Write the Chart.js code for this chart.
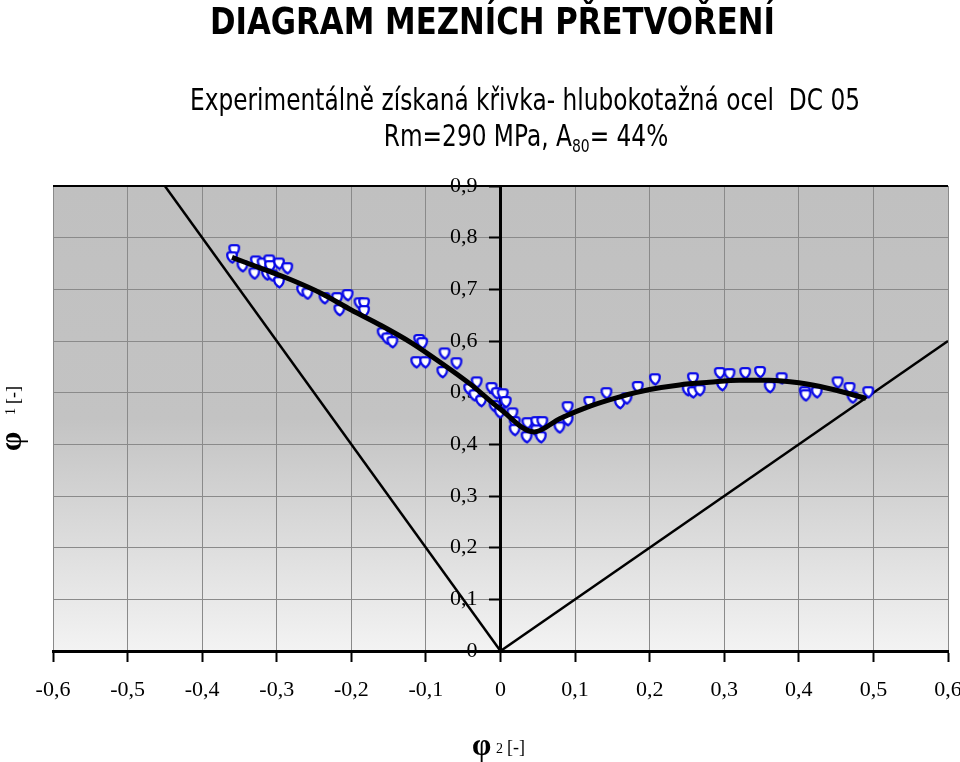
<!DOCTYPE html>
<html>
<head>
<meta charset="utf-8" />
<title>Diagram mezních přetvoření</title>
<style>
  html, body { margin: 0; padding: 0; background: #fff; }
  #obal { width: 960px; height: 762px; }
</style>
</head>
<body>
<div id="obal"><canvas id="canvasFLD" width="960" height="762"></canvas></div>
<script src="https://cdn.jsdelivr.net/npm/chart.js@4.4.0/dist/chart.umd.min.js"></script>
<script type="text/javascript">

// namerene body (phi2 / phi1)
var bodyX = [-0.357, -0.360, -0.346, -0.330, -0.328, -0.319, -0.310, -0.309, -0.313, -0.306,
             -0.297, -0.286, -0.297, -0.266, -0.259, -0.236, -0.219, -0.205, -0.216, -0.189,
             -0.183, -0.183, -0.158, -0.152, -0.145, -0.109, -0.105, -0.113, -0.101, -0.075,
             -0.059, -0.078, -0.032, -0.042, -0.035, -0.026, -0.012, -0.005, 0.003, 0.007,
             -0.008, -0.001, 0.016, 0.019, 0.019, 0.035, 0.036, 0.048, 0.056, 0.048,
             0.054, 0.079, 0.090, 0.090, 0.119, 0.142, 0.160, 0.169, 0.184, 0.207,
             0.251, 0.258, 0.258, 0.267, 0.294, 0.297, 0.307, 0.328, 0.348, 0.361,
             0.377, 0.408, 0.409, 0.424, 0.452, 0.468, 0.472, 0.493];
var bodyY = [0.776, 0.762, 0.745, 0.731, 0.754, 0.750, 0.756, 0.745, 0.729, 0.727,
             0.750, 0.741, 0.714, 0.698, 0.692, 0.683, 0.683, 0.689, 0.660, 0.673,
             0.673, 0.658, 0.615, 0.605, 0.598, 0.602, 0.596, 0.559, 0.559, 0.576,
             0.557, 0.540, 0.520, 0.507, 0.495, 0.484, 0.509, 0.499, 0.497, 0.482,
             0.474, 0.462, 0.460, 0.443, 0.428, 0.414, 0.441, 0.443, 0.443, 0.427,
             0.414, 0.433, 0.472, 0.447, 0.482, 0.499, 0.480, 0.489, 0.511, 0.526,
             0.505, 0.528, 0.501, 0.505, 0.538, 0.515, 0.536, 0.538, 0.540, 0.511,
             0.528, 0.501, 0.495, 0.501, 0.520, 0.509, 0.491, 0.501];

// prolozena krivka
var krivkaX = [-0.36, -0.32, -0.28, -0.24, -0.20, -0.16, -0.12, -0.08, -0.04, 0.0, 0.045,
               0.08, 0.12, 0.16, 0.20, 0.24, 0.28, 0.32, 0.36, 0.40, 0.44, 0.49];
var krivkaY = [0.762, 0.740, 0.718, 0.692, 0.660, 0.630, 0.597, 0.558, 0.516, 0.468, 0.424,
               0.450, 0.474, 0.492, 0.506, 0.515, 0.520, 0.524, 0.524, 0.519, 0.508, 0.489];

// hranice (jednoosy tah, rovnomerny dvouosy tah)
var hraniceLevaX = [0, -0.45];
var hraniceLevaY = [0, 0.9];
var hranicePravaX = [0, 0.6];
var hranicePravaY = [0, 0.6];

function spoj(xs, ys) {
    var out = [];
    for (var i = 0; i < xs.length; i++) out.push({x: xs[i], y: ys[i]});
    return out;
}

function cislo(v) {
    if (Math.abs(v) < 1e-9) return '0';
    return v.toFixed(1).replace('.', ',');
}

// znacka bodu
function udelejZnacku() {
    var c = document.createElement('canvas');
    c.width = 14; c.height = 14;
    var g = c.getContext('2d');
    g.beginPath();
    g.moveTo(7.5, 12.3);
    g.quadraticCurveTo(2.2, 9.5, 2.2, 4.6);
    g.quadraticCurveTo(2.2, 2.2, 4.6, 2.2);
    g.lineTo(9.4, 2.2);
    g.quadraticCurveTo(11.8, 2.2, 11.8, 4.6);
    g.quadraticCurveTo(11.8, 9.5, 7.5, 12.3);
    g.closePath();
    g.fillStyle = '#ffffff';
    g.fill();
    g.lineWidth = 2.3;
    g.strokeStyle = '#0a0ae8';
    g.stroke();
    return c;
}

function textNaSirku(ctx, text, font, x, y, sirka) {
    ctx.save();
    ctx.font = font;
    var w = ctx.measureText(text).width;
    ctx.translate(x, y);
    ctx.scale(sirka / w, 1);
    ctx.textAlign = 'left';
    ctx.textBaseline = 'alphabetic';
    ctx.fillText(text, 0, 0);
    ctx.restore();
    return sirka / w;
}

var pozadi = {
    id: 'pozadi',
    beforeDraw: function(chart) {
        var a = chart.chartArea, ctx = chart.ctx;
        var gr = ctx.createLinearGradient(0, a.top, 0, a.bottom);
        gr.addColorStop(0, '#c0c0c0');
        gr.addColorStop(0.5, '#c3c3c3');
        gr.addColorStop(1, '#f3f3f3');
        ctx.save();
        ctx.fillStyle = gr;
        ctx.fillRect(a.left, a.top, a.right - a.left, a.bottom - a.top);
        ctx.restore();

        // popisky osy y vlevo od osy (osa je uprostred grafu)
        var polozky = chart.scales.y.getLabelItems();
        for (var i = 0; i < polozky.length; i++) {
            if (!polozky[i]._posunuto) {
                polozky[i].options.translation[0] -= 23;
                polozky[i]._posunuto = true;
            }
        }
    },
    afterDraw: function(chart) {
        var a = chart.chartArea, ctx = chart.ctx;
        ctx.save();
        // horni okraj
        ctx.strokeStyle = '#000';
        ctx.lineWidth = 2;
        ctx.beginPath();
        ctx.moveTo(a.left, a.top);
        ctx.lineTo(a.right, a.top);
        ctx.stroke();

        ctx.fillStyle = '#000';
        textNaSirku(ctx, 'DIAGRAM MEZNÍCH PŘETVOŘENÍ', 'bold 37px "DejaVu Sans"', 210, 34, 565);
        var s = textNaSirku(ctx, 'Experimentálně získaná křivka- hlubokotažná ocel  DC 05',
            '30px "DejaVu Sans"', 190, 110, 670);

        // druhy radek s indexem
        var casti = [
            {t: 'Rm=290 MPa, A', f: '30px "DejaVu Sans"', dy: 0},
            {t: '80', f: '18px "DejaVu Sans"', dy: 6},
            {t: '= 44%', f: '30px "DejaVu Sans"', dy: 0}
        ];
        var celkem = 0, i;
        for (i = 0; i < casti.length; i++) {
            ctx.font = casti[i].f;
            casti[i].w = ctx.measureText(casti[i].t).width * s;
            celkem += casti[i].w;
        }
        var x = 526 - celkem / 2;
        for (i = 0; i < casti.length; i++) {
            ctx.save();
            ctx.font = casti[i].f;
            ctx.translate(x, 146 + casti[i].dy);
            ctx.scale(s, 1);
            ctx.fillText(casti[i].t, 0, 0);
            ctx.restore();
            x += casti[i].w;
        }

        // popis osy x
        ctx.textBaseline = 'alphabetic';
        ctx.font = 'bold 31px "Liberation Serif"';
        ctx.fillText('φ', 472, 755);
        ctx.font = '14px "Liberation Serif"';
        ctx.fillText('2', 496, 753);
        ctx.font = '18px "Liberation Serif"';
        ctx.fillText('[-]', 507, 753);

        // popis osy y
        ctx.translate(21, 451);
        ctx.rotate(-Math.PI / 2);
        ctx.font = 'bold 31px "Liberation Serif"';
        ctx.fillText('φ', 0, 0);
        ctx.font = '14px "Liberation Serif"';
        ctx.fillText('1', 36, -6);
        ctx.font = '18px "Liberation Serif"';
        ctx.fillText('[-]', 47, -2);
        ctx.restore();
    }
};

var pismoOsy = {family: '"Liberation Serif"', size: 22};

var config = {
    type: 'scatter',
    data: {
        datasets: [{
            label: 'křivka',
            data: spoj(krivkaX, krivkaY),
            showLine: true,
            borderColor: '#000',
            borderWidth: 5,
            pointRadius: 0,
            cubicInterpolationMode: 'monotone',
            order: 0
        }, {
            label: 'body',
            data: spoj(bodyX, bodyY),
            pointStyle: udelejZnacku(),
            pointRadius: 7,
            showLine: false,
            order: 1
        }, {
            label: 'hranice1',
            data: spoj(hraniceLevaX, hraniceLevaY),
            showLine: true,
            borderColor: '#000',
            borderWidth: 2.5,
            pointRadius: 0,
            order: 2
        }, {
            label: 'hranice2',
            data: spoj(hranicePravaX, hranicePravaY),
            showLine: true,
            borderColor: '#000',
            borderWidth: 2.5,
            pointRadius: 0,
            order: 2
        }]
    },
    options: {
        responsive: false,
        animation: false,
        layout: {padding: {top: 186, left: 53, right: 12, bottom: 0}},
        plugins: {legend: {display: false}, tooltip: {enabled: false}},
        scales: {
            x: {
                type: 'linear',
                position: 'bottom',
                min: -0.6,
                max: 0.6,
                afterFit: function(s) { s.height = 111; s.paddingLeft = 0; s.paddingRight = 0; },
                ticks: {
                    stepSize: 0.1,
                    autoSkip: false,
                    maxRotation: 0,
                    padding: 15,
                    color: '#000',
                    font: pismoOsy,
                    callback: function(v) { return cislo(v); }
                },
                grid: {color: '#8a8a8a', lineWidth: 1, tickColor: '#000', tickLength: 11, tickWidth: 2},
                border: {display: true, color: '#000', width: 3}
            },
            y: {
                type: 'linear',
                position: {x: 0},
                min: 0,
                max: 0.9,
                ticks: {
                    stepSize: 0.1,
                    autoSkip: false,
                    padding: 13,
                    color: '#000',
                    font: pismoOsy,
                    callback: function(v) { return cislo(v); }
                },
                grid: {color: '#8a8a8a', lineWidth: 1, tickColor: '#000', tickLength: 10, tickWidth: 2},
                border: {display: true, color: '#000', width: 3}
            }
        }
    },
    plugins: [pozadi]
};

var ctx = document.getElementById('canvasFLD').getContext('2d');
var graf = new Chart(ctx, config);

</script>
</body>
</html>
